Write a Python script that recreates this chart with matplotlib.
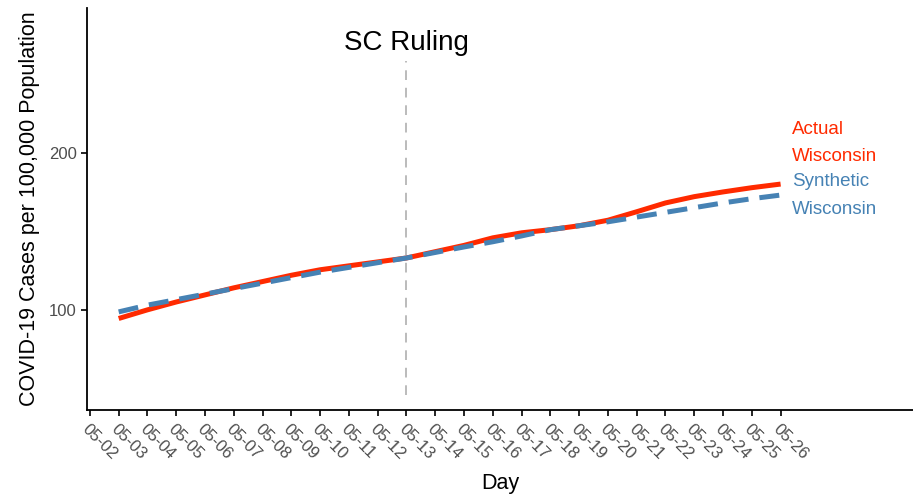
import numpy as np
import matplotlib.pyplot as plt

plt.rcParams['font.family'] = ['Liberation Sans', 'DejaVu Sans']

days = ['05-02', '05-03', '05-04', '05-05', '05-06', '05-07', '05-08', '05-09',
        '05-10', '05-11', '05-12', '05-13', '05-14', '05-15', '05-16', '05-17',
        '05-18', '05-19', '05-20', '05-21', '05-22', '05-23', '05-24', '05-25', '05-26']

# series start at 05-03
actual = [94.5, 100, 105, 109.5, 114, 118, 122, 125.5, 128, 130.5, 133,
          137, 141, 145.8, 149, 151, 153.5, 157, 162.4, 168, 172, 175, 177.7, 180]
synthetic = [98.7, 103, 106.5, 110, 113.5, 117, 120.5, 124, 127, 130, 133,
             136.5, 140, 143.3, 147, 151, 153.5, 156, 159, 162, 165, 168, 170.7, 173]

ruling_day = '05-13'

red = '#FF2A00'
blue = '#4682B4'
grey_txt = '#4D4D4D'

fig = plt.figure(figsize=(9.13, 4.98), dpi=100)
ax = fig.add_axes([0.0953, 0.1767, 0.9047, 0.8073])

x = np.arange(1, len(days))
ax.plot(x, actual, color=red, lw=3.6, solid_capstyle='butt', zorder=3)
ax.plot(x, synthetic, color=blue, lw=3.6, dashes=(4, 2.2), zorder=4)

xr = days.index(ruling_day)
ax.plot([xr, xr], [46, 258], color='#BBBBBB', lw=1.4, dashes=(5, 4), zorder=2)
ax.text(xr, 270, 'SC Ruling', ha='center', va='center', fontsize=20)

lx = 24.4
ax.text(lx, 215, 'Actual', color=red, fontsize=13.5, va='center', ha='left')
ax.text(lx, 197.5, 'Wisconsin', color=red, fontsize=13.5, va='center', ha='left')
ax.text(lx, 181.5, 'Synthetic', color=blue, fontsize=13.5, va='center', ha='left')
ax.text(lx, 163.7, 'Wisconsin', color=blue, fontsize=13.5, va='center', ha='left')

ax.set_xlim(-0.1, 28.6)
ax.set_ylim(36.3, 292)
ax.set_xticks(np.arange(len(days)))
ax.set_xticklabels(days, rotation=-45, ha='left', va='top',
                   rotation_mode='anchor', fontsize=12, color=grey_txt)
ax.set_yticks([100, 200])
ax.set_yticklabels(['100', '200'], fontsize=12, color=grey_txt)
ax.tick_params(axis='both', length=4, width=1.2, color='black')
ax.tick_params(axis='x', pad=4)

for s in ['top', 'right']:
    ax.spines[s].set_visible(False)
for s in ['left', 'bottom']:
    ax.spines[s].set_linewidth(1.3)
    ax.spines[s].set_color('black')

ax.set_xlabel('Day', fontsize=15.5, labelpad=8)
ax.set_ylabel('COVID-19 Cases per 100,000 Population', fontsize=15.5, labelpad=6)

fig.savefig('out.png', dpi=100)
